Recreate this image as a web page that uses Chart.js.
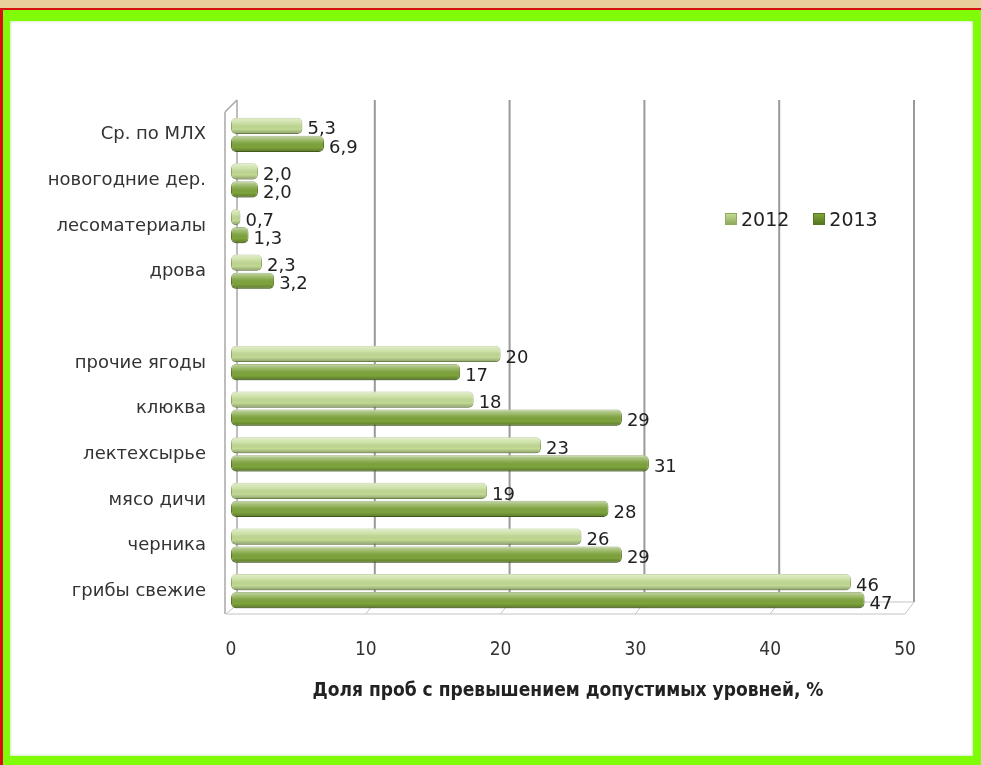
<!DOCTYPE html>
<html lang="ru">
<head>
<meta charset="UTF-8">
<title>Доля проб с превышением допустимых уровней</title>
<script src="https://cdn.jsdelivr.net/npm/chart.js"></script>
<style>
    body {
        margin: 0;
        width: 981px;
        height: 765px;
        background: #e8cf9c;
        overflow: hidden;
        position: relative;
    }
    .frame {
        position: absolute;
        left: 0;
        top: 8px;
        width: 978px;
        height: 755px;
        border-top: 2px solid #d81010;
        border-left: 3px solid #d81010;
        background: #80fc08;
    }
    .inner {
        position: absolute;
        left: 7px;
        top: 11px;
        width: 963px;
        height: 735px;
        background: #ffffff;
        box-shadow: inset 0 0 3px rgba(120, 200, 60, 0.6);
    }
    canvas {
        position: absolute;
        left: 0;
        top: 0;
    }
    .legend {
        position: absolute;
        left: 725px;
        top: 208px;
        font-family: "DejaVu Sans", sans-serif;
        font-size: 19px;
        color: #222;
        display: flex;
        gap: 24px;
    }
    .legend span.item {
        display: flex;
        align-items: center;
        gap: 4px;
    }
    .legend i {
        display: inline-block;
        width: 12px;
        height: 12px;
        box-sizing: border-box;
    }
</style>
</head>
<body>
<div class="frame"><div class="inner"></div></div>
<canvas id="chart" width="981" height="765"></canvas>
<div class="legend" id="legend"></div>

<script>
    // categories, top to bottom (empty one is the gap)
    const categories = ['Ср. по МЛХ', 'новогодние дер.', 'лесоматериалы', 'дрова', '',
        'прочие ягоды', 'клюква', 'лектехсырье', 'мясо дичи', 'черника', 'грибы свежие'];
    const seriesNames = ['2012', '2013'];
    const values2012 = [5.3, 2.0, 0.7, 2.3, null, 20, 18, 23, 19, 26, 46];
    const values2013 = [6.9, 2.0, 1.3, 3.2, null, 17, 29, 31, 28, 29, 47];
    const xTicks = [0, 10, 20, 30, 40, 50];

    const fills = ['#c2da94', '#7ea43c'];
    const edges = ['#8fab5c', '#55781f'];

    // value label: small values keep one decimal with comma
    function fmt(v) {
        return v < 10 ? v.toFixed(1).replace('.', ',') : String(v);
    }

    // fake 3D walls / floor behind the bars
    const walls = {
        id: 'walls',
        beforeDatasetsDraw(chart) {
            const {ctx, chartArea: a, scales: {x}} = chart;
            const dx = 9, dy = 12;
            ctx.save();
            // back wall gridlines
            ctx.strokeStyle = '#999999';
            ctx.lineWidth = 2;
            xTicks.forEach(v => {
                if (v === 0) return;
                const px = x.getPixelForValue(v) + dx;
                ctx.beginPath();
                ctx.moveTo(px, a.top - dy);
                ctx.lineTo(px, a.bottom - dy);
                ctx.stroke();
            });
            // floor
            ctx.strokeStyle = '#c4c4c4';
            ctx.lineWidth = 1;
            ctx.beginPath();
            ctx.moveTo(a.left - 5, a.bottom);
            ctx.lineTo(a.right, a.bottom);
            ctx.moveTo(a.left + dx - 2, a.bottom - dy);
            ctx.lineTo(a.right + dx, a.bottom - dy);
            xTicks.forEach(v => {
                const px = x.getPixelForValue(v);
                ctx.moveTo(px - (v === 0 ? 5 : 0), a.bottom);
                ctx.lineTo(px + dx, a.bottom - dy);
            });
            ctx.stroke();
            // left wall
            ctx.strokeStyle = '#a8a8a8';
            ctx.lineWidth = 1.5;
            ctx.beginPath();
            ctx.moveTo(a.left - 6, a.top);
            ctx.lineTo(a.left - 6, a.bottom);
            ctx.moveTo(a.left + 6, a.top - dy);
            ctx.lineTo(a.left + 6, a.bottom - dy);
            ctx.moveTo(a.left - 6, a.top);
            ctx.lineTo(a.left + 6, a.top - dy);
            ctx.stroke();
            ctx.restore();
        }
    };

    // cylinder shading + value labels
    const shade = {
        id: 'shade',
        afterDatasetsDraw(chart) {
            const ctx = chart.ctx;
            chart.data.datasets.forEach((ds, di) => {
                const meta = chart.getDatasetMeta(di);
                meta.data.forEach((el, i) => {
                    const v = ds.data[i];
                    if (v == null) return;
                    const {x, y, base, height} = el.getProps(['x', 'y', 'base', 'height'], true);
                    const top = y - height / 2;
                    const g = ctx.createLinearGradient(0, top, 0, top + height);
                    g.addColorStop(0, 'rgba(255,255,255,0.55)');
                    g.addColorStop(0.35, 'rgba(255,255,255,0.15)');
                    g.addColorStop(0.7, 'rgba(0,0,0,0)');
                    g.addColorStop(1, 'rgba(0,0,0,0.28)');
                    ctx.save();
                    ctx.fillStyle = g;
                    ctx.beginPath();
                    ctx.roundRect(base, top, Math.max(x - base, 2), height, Math.min(5, (x - base) / 2));
                    ctx.fill();
                    ctx.restore();

                    ctx.save();
                    ctx.fillStyle = '#222';
                    ctx.font = '18px "DejaVu Sans", sans-serif';
                    ctx.textAlign = 'left';
                    ctx.textBaseline = 'middle';
                    ctx.fillText(fmt(v), x + 5, y + 4);
                    ctx.restore();
                });
            });
        }
    };

    const ctx = document.getElementById('chart').getContext('2d');
    new Chart(ctx, {
        type: 'bar',
        data: {
            labels: categories,
            datasets: [
                { label: seriesNames[0], data: values2012, backgroundColor: fills[0], borderColor: edges[0] },
                { label: seriesNames[1], data: values2013, backgroundColor: fills[1], borderColor: edges[1] }
            ]
        },
        options: {
            indexAxis: 'y',
            responsive: false,
            animation: false,
            categoryPercentage: 0.79,
            barPercentage: 0.9,
            datasets: {
                bar: { borderWidth: 1, borderRadius: 5, borderSkipped: false }
            },
            layout: { padding: { top: 112, right: 76, left: 0, bottom: 0 } },
            plugins: {
                legend: { display: false },
                tooltip: { enabled: false }
            },
            scales: {
                x: {
                    min: 0,
                    max: 50,
                    afterBuildTicks: s => { s.ticks = xTicks.map(v => ({ value: v })); },
                    afterFit: s => { s.height = 151; },
                    grid: { display: false, drawTicks: false },
                    border: { display: false },
                    ticks: {
                        padding: 25,
                        color: '#333',
                        font: { family: '"Liberation Sans Narrow", "DejaVu Sans Condensed", sans-serif', size: 19 }
                    },
                    title: {
                        display: true,
                        text: 'Доля проб с превышением допустимых уровней, %',
                        color: '#222',
                        font: { family: '"DejaVu Sans Condensed", "DejaVu Sans", sans-serif', size: 19, weight: 'bold' },
                        padding: { top: 0, bottom: 63 }
                    }
                },
                y: {
                    afterFit: s => { s.width = 231; },
                    grid: { display: false, drawTicks: false },
                    border: { display: false },
                    ticks: {
                        padding: 25,
                        color: '#333',
                        font: { family: '"DejaVu Sans", sans-serif', size: 18 }
                    }
                }
            }
        },
        plugins: [walls, shade]
    });

    // legend inside the plot, built from series names
    const legend = document.getElementById('legend');
    seriesNames.forEach((name, i) => {
        legend.innerHTML += '<span class="item"><i style="background:linear-gradient(' +
            fills[i] + ',' + edges[i] + ');border:1px solid ' + edges[i] + '"></i>' + name + '</span>';
    });
</script>
</body>
</html>
